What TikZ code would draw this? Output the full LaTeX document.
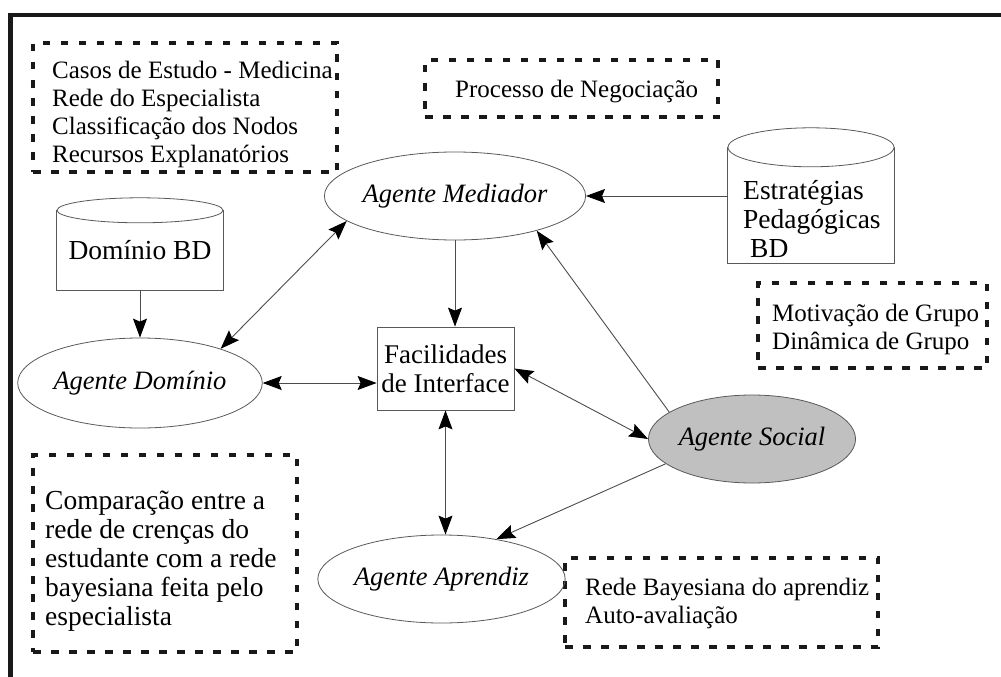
\documentclass[tikz,border=0pt]{standalone}
\usepackage{fontspec}
\setmainfont{Liberation Serif}
\usetikzlibrary{shapes.geometric,arrows.meta}
\definecolor{socgray}{RGB}{192,192,192}

\begin{document}
\begin{tikzpicture}[x=1pt,y=-1pt,
  >={Stealth[length=19pt,width=14pt,inset=3pt,color=black]},
  conn/.style={draw=black!70, line width=0.9pt},
  dbox/.style={rectangle, draw=black!90, line width=3.8pt, dash pattern=on 7.5pt off 10.5pt, inner sep=0pt},
  boxtext/.style={anchor=base west, align=left, inner sep=0pt, font=\fontsize{25}{28}\selectfont},
  agent/.style={ellipse, draw=black!65, line width=0.8pt, inner sep=0pt, font=\fontsize{26.5}{30}\selectfont\itshape},
  cylbody/.style={rectangle, inner sep=0pt, font=\fontsize{27.5}{29}\selectfont},
  cylline/.style={draw=black!65, line width=0.8pt},
  facbox/.style={rectangle, draw=black!65, line width=0.8pt, inner sep=0pt, align=center, font=\fontsize{27}{29}\selectfont}
]
\useasboundingbox (0,0) rectangle (1001,677);

% outer frame (top and left edges)
\draw[line width=4.5pt, black!90, line join=miter] (10.5,690) -- (10.5,15) -- (1010,15);

% dashed note boxes; each text node sits on the baseline of its last line
\node[dbox, minimum width=304pt, minimum height=129pt] (notecasos) at (185,107.5) {};
\node[boxtext] (txtcasos) at (52,162) {Casos de Estudo - Medicina\\Rede do Especialista\\Classificação dos Nodos\\Recursos Explanatórios};

\node[dbox, minimum width=293pt, minimum height=57pt] (noteproc) at (571.5,88.5) {};
\node[boxtext] (txtproc) at (455,97) {Processo de Negociação};

\node[dbox, minimum width=229pt, minimum height=85pt] (notegrupo) at (872.5,325.5) {};
\node[boxtext] (txtgrupo) at (772,349) {Motivação de Grupo\\Dinâmica de Grupo};

\node[dbox, minimum width=264pt, minimum height=197pt] (notecomp) at (165,553.5) {};
\node[boxtext, font=\fontsize{27.5}{28.8}\selectfont] (txtcomp) at (45,625) {Comparação entre a\\rede de crenças do\\estudante com a rede\\bayesiana feita pelo\\especialista};

\node[dbox, minimum width=313pt, minimum height=89pt] (notebayes) at (721.5,602.5) {};
\node[boxtext] (txtbayes) at (585,623) {Rede Bayesiana do aprendiz\\Auto-avaliação};

% databases
\node[cylbody, minimum width=166pt, minimum height=79.5pt] (dba) at (140,250.25) {Domínio BD};
\draw[cylline] (dba.north west) -- (dba.south west) -- (dba.south east) -- (dba.north east);
\draw[cylline, fill=white] (dba.north) ellipse [x radius=83pt, y radius=12.5pt];

\node[cylbody, minimum width=166pt, minimum height=115.5pt] (est) at (811,205.25) {};
\draw[cylline] (est.north west) -- (est.south west) -- (est.south east) -- (est.north east);
\draw[cylline, fill=white] (est.north) ellipse [x radius=83pt, y radius=19.5pt];
\node[cylbody, anchor=base west, align=left] (esttxt) at (743,257) {Estratégias\\Pedagógicas\\\hspace{7pt}BD};

% agents
\node[agent, minimum width=218pt, minimum height=88pt] (med) at (455,196) {Agente Mediador};
\node[agent, minimum width=194pt, minimum height=90pt] (dom) at (140,383) {Agente Domínio};
\node[agent, fill=socgray, minimum width=194pt, minimum height=88pt] (soc) at (752,439) {Agente Social};
\node[agent, minimum width=193pt, minimum height=88pt] (apr) at (441.5,579) {Agente Aprendiz};

\node[facbox, minimum width=137pt, minimum height=83pt] (fac) at (445.5,368.5) {Facilidades\\de Interface};

% connectors
\draw[conn,->] (med.east -| est.west) -- (med.east);
\draw[conn,->] (dba.south) -- (dom.north);
\draw[conn,<->] (dom.23) -- (med.193);
\draw[conn,->] (med.south) -- (med.south |- fac.north);
\draw[conn,<->] (dom.east) -- (dom.east -| fac.west);
\draw[conn,<->] (fac.east) -- (soc.west);
\draw[conn,->] (soc.162) -- (med.337);
\draw[conn,<->] (fac.south) -- (fac.south |- apr.north);
\draw[conn,->] (soc.196) -- (apr.36);
\end{tikzpicture}
\end{document}
